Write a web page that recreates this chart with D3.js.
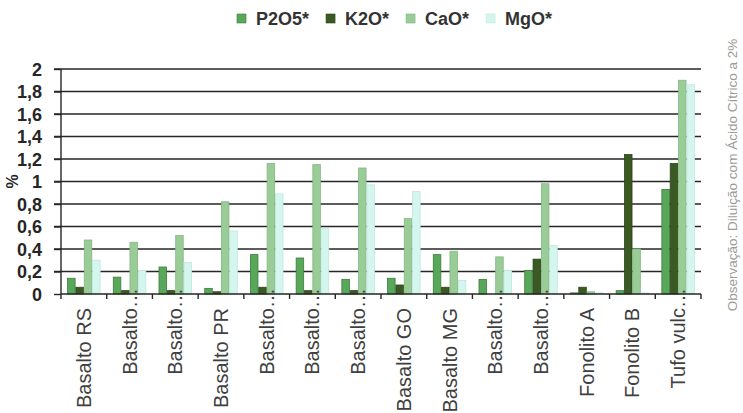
<!DOCTYPE html>
<html>
<head>
<meta charset="utf-8">
<script src="https://cdn.jsdelivr.net/npm/d3@7"></script>
<style>
  html, body { margin: 0; padding: 0; background: #fff; }
  svg { display: block; font-family: "Liberation Sans", Arial, sans-serif; }
</style>
</head>
<body>
<svg id="chart" width="743" height="413"></svg>
<script>
// ---- data ----
const categories = ["Basalto RS", "Basalto…", "Basalto…", "Basalto PR", "Basalto…", "Basalto…", "Basalto…",
  "Basalto GO", "Basalto MG", "Basalto…", "Basalto…", "Fonolito A", "Fonolito B", "Tufo vulc…"];
const seriesNames = ["P2O5*", "K2O*", "CaO*", "MgO*"];
const P2O5 = [0.14, 0.15, 0.24, 0.05, 0.35, 0.32, 0.13, 0.14, 0.35, 0.13, 0.21, 0.01, 0.03, 0.93];
const K2O  = [0.06, 0.03, 0.03, 0.02, 0.06, 0.03, 0.03, 0.08, 0.06, 0.00, 0.31, 0.06, 1.24, 1.16];
const CaO  = [0.48, 0.46, 0.52, 0.82, 1.16, 1.15, 1.12, 0.67, 0.38, 0.33, 0.98, 0.02, 0.40, 1.90];
const MgO  = [0.30, 0.21, 0.28, 0.56, 0.89, 0.58, 0.97, 0.91, 0.12, 0.21, 0.43, 0.01, 0.01, 1.86];
const yTicks = [0, 0.2, 0.4, 0.6, 0.8, 1, 1.2, 1.4, 1.6, 1.8, 2];
const yTitle = "%";
const note = "Observação: Diluição com Ácido Cítrico a 2%";

const seriesValues = [P2O5, K2O, CaO, MgO];
const fills   = ["#58a85a", "#3b5a23", "#99cc97", "#d5f6ef"];
const strokes = ["#3f7a3f", "#2c4419", "#84b882", "#bfe6de"];

// ---- layout ----
const svg = d3.select("#chart");
svg.append("rect").attr("width", 743).attr("height", 413).attr("fill", "#fff");

const pLeft = 61, pRight = 701, pTop = 69, pBottom = 294;
const idx = categories.map((d, i) => i);
const x0 = d3.scaleBand().domain(idx).range([pLeft, pRight]).paddingInner(0.27).paddingOuter(0.135);
const x1 = d3.scaleBand().domain(d3.range(seriesNames.length)).range([0, x0.bandwidth()]);
const y = d3.scaleLinear().domain([0, 2]).range([pBottom, pTop]);
const fmt = d3.formatLocale({decimal: ",", thousands: ".", grouping: [3], currency: ["", ""]}).format(".1~f");

// gridlines
svg.append("g").selectAll("line").data(yTicks.filter(t => t > 0)).join("line")
  .attr("x1", pLeft - 7).attr("x2", pRight)
  .attr("y1", d => y(d)).attr("y2", d => y(d))
  .attr("stroke", "#262626").attr("stroke-width", 1.4);

// bars
const groups = svg.append("g").selectAll("g").data(idx).join("g")
  .attr("transform", i => `translate(${x0(i)},0)`);
groups.selectAll("rect").data(i => seriesValues.map((s, k) => ({k, v: s[i]}))).join("rect")
  .attr("x", d => x1(d.k) + 0.4)
  .attr("width", x1.bandwidth() - 0.8)
  .attr("y", d => y(d.v))
  .attr("height", d => pBottom - y(d.v))
  .attr("fill", d => fills[d.k])
  .attr("stroke", d => d.v > 0 ? strokes[d.k] : "none")
  .attr("stroke-width", 0.8);

// y axis
const yAxis = svg.append("g").attr("transform", `translate(${pLeft},0)`)
  .call(d3.axisLeft(y).tickValues(yTicks).tickFormat(fmt).tickSize(7).tickPadding(12));
yAxis.select(".domain").attr("stroke", "#262626").attr("stroke-width", 1.4).attr("d", `M0,${pTop}V${pBottom}`);
yAxis.selectAll(".tick line").attr("stroke", "#262626").attr("stroke-width", 1.4);
yAxis.selectAll(".tick text").attr("font-size", 18).attr("font-weight", "bold").attr("fill", "#262626")
  .attr("font-family", "Liberation Sans, Arial, sans-serif").attr("dy", "0.36em");

// x axis line + boundary ticks
svg.append("line").attr("x1", pLeft).attr("x2", pRight).attr("y1", pBottom).attr("y2", pBottom)
  .attr("stroke", "#262626").attr("stroke-width", 1.4);
const step = x0.step(), offs = step * x0.paddingOuter();
const bx = i => (i < idx.length ? x0(i) - offs : x0(idx.length - 1) - offs + step);
svg.append("g").selectAll("line").data(idx.concat([idx.length])).join("line")
  .attr("x1", bx).attr("x2", bx)
  .attr("y1", pBottom).attr("y2", pBottom + 5)
  .attr("stroke", "#262626").attr("stroke-width", 1.4);

// x labels
const labelEnd = 308;
const tmp = svg.append("text").attr("font-size", 20).text("…");
const ellW = tmp.node().getComputedTextLength();
tmp.remove();
svg.append("g").selectAll("text").data(idx).join("text")
  .attr("transform", i => `translate(${x0(i) + x0.bandwidth() / 2},${labelEnd}) rotate(-90)`)
  .attr("text-anchor", "end")
  .attr("x", i => categories[i].endsWith("…") ? ellW : 0)
  .attr("dy", "0.35em")
  .attr("font-size", 20)
  .attr("fill", "#404040")
  .text(i => categories[i]);

// y title
svg.append("text").attr("transform", `translate(12,${(pTop + pBottom) / 2}) rotate(-90)`)
  .attr("text-anchor", "middle").attr("dy", "0.35em")
  .attr("font-size", 16).attr("font-weight", "bold").attr("fill", "#262626").text(yTitle);

// legend
const leg = svg.append("g");
let lx = 237;
seriesNames.forEach((name, k) => {
  leg.append("rect").attr("x", lx).attr("y", 14).attr("width", 9).attr("height", 9)
    .attr("fill", fills[k]).attr("stroke", strokes[k]).attr("stroke-width", 0.6);
  const t = leg.append("text").attr("x", lx + 19).attr("y", 25)
    .attr("font-size", 18).attr("font-weight", "bold").attr("fill", "#333").text(name);
  lx += 19 + t.node().getComputedTextLength() + 17;
});

// note
svg.append("text").attr("transform", `translate(737,175) rotate(-90)`)
  .attr("text-anchor", "middle").attr("font-size", 13.5).attr("fill", "#9a9a9a").text(note);
</script>
</body>
</html>
